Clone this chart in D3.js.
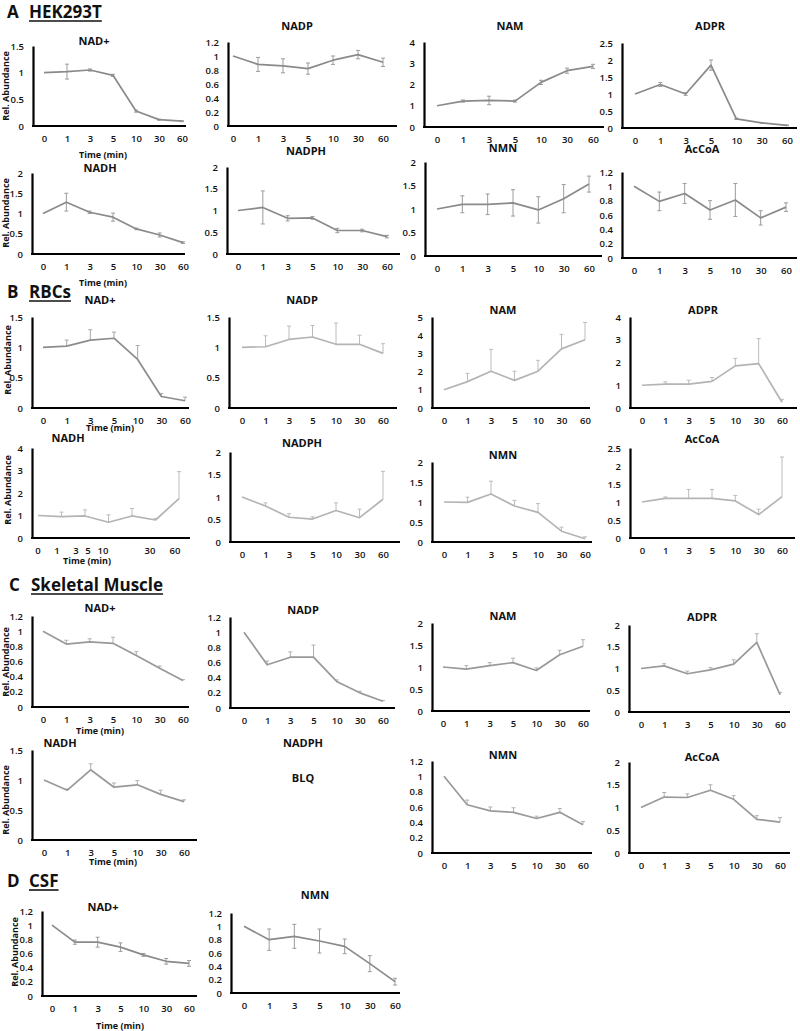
<!DOCTYPE html>
<html><head><meta charset="utf-8">
<script src="https://cdn.jsdelivr.net/npm/d3@7"></script>
<style>body{margin:0;background:#fff} svg{display:block}</style>
</head><body><svg id="c" width="800" height="1031"></svg>
<script>
const timePoints = ["0","1","3","5","10","30","60"];

// A  HEK293T
const hekNAD = [1.0,1.02,1.05,0.95,0.28,0.12,0.09];
const hekNADErr = [0,0.14,0.02,0.02,0.02,0.01,0.01];
const hekNADP = [1.0,0.88,0.86,0.82,0.94,1.02,0.91];
const hekNADPErr = [0,0.1,0.1,0.08,0.06,0.06,0.06];
const hekNAM = [1.0,1.22,1.25,1.22,2.1,2.65,2.85];
const hekNAMErr = [0,0.05,0.2,0.05,0.1,0.12,0.1];
const hekADPR = [1.0,1.28,1.0,1.85,0.27,0.15,0.08];
const hekADPRErr = [0,0.06,0.04,0.15,0.02,0.01,0.01];
const hekNADH = [1.0,1.28,1.03,0.91,0.62,0.47,0.28];
const hekNADHErr = [0,0.22,0.03,0.1,0.02,0.05,0.02];
const hekNADPH = [1.0,1.07,0.82,0.83,0.54,0.54,0.4];
const hekNADPHErr = [0,0.38,0.06,0.03,0.05,0.03,0.03];
const hekNMN = [1.0,1.1,1.1,1.13,0.98,1.22,1.53];
const hekNMNErr = [0,0.18,0.22,0.28,0.28,0.3,0.17];
const hekAcCoA = [1.0,0.79,0.9,0.67,0.81,0.56,0.71];
const hekAcCoAErr = [0,0.13,0.14,0.13,0.23,0.1,0.06];

// B  RBCs
const rbcNAD = [1.0,1.02,1.12,1.15,0.8,0.19,0.12];
const rbcNADErr = [0,0.1,0.17,0.1,0.23,0.05,0.06];
const rbcNADP = [1.0,1.01,1.13,1.17,1.05,1.05,0.9];
const rbcNADPErr = [0,0.18,0.22,0.19,0.35,0.15,0.16];
const rbcNAM = [1.0,1.45,2.02,1.52,2.02,3.25,3.75];
const rbcNAMErr = [0,0.45,1.2,0.5,0.6,0.8,0.95];
const rbcADPR = [1.0,1.05,1.05,1.17,1.85,1.95,0.25];
const rbcADPRErr = [0,0.1,0.17,0.17,0.33,1.1,0.13];
const rbcNADH = [1.0,0.95,0.98,0.7,0.98,0.8,1.75];
const rbcNADHErr = [0,0.2,0.27,0.33,0.33,0.07,1.2];
const rbcNADPH = [1.0,0.8,0.55,0.51,0.7,0.54,0.95];
const rbcNADPHErr = [0,0.07,0.08,0.05,0.17,0.19,0.62];
const rbcNMN = [1.0,0.99,1.2,0.9,0.74,0.27,0.08];
const rbcNMNErr = [0,0.13,0.32,0.14,0.22,0.1,0.05];
const rbcAcCoA = [1.0,1.1,1.1,1.1,1.03,0.65,1.15];
const rbcAcCoAErr = [0,0.04,0.25,0.25,0.15,0.15,1.1];

// C  Skeletal Muscle
const musNAD = [1.0,0.83,0.86,0.84,0.68,0.51,0.35];
const musNADErr = [0,0.05,0.04,0.08,0.05,0.03,0.01];
const musNADP = [1.0,0.57,0.67,0.67,0.35,0.2,0.09];
const musNADPErr = [0,0.05,0.07,0.16,0.02,0.02,0.01];
const musNAM = [1.0,0.95,1.03,1.1,0.92,1.28,1.47];
const musNAMErr = [0,0.08,0.07,0.1,0.06,0.1,0.15];
const musADPR = [1.0,1.06,0.88,0.97,1.1,1.6,0.4];
const musADPRErr = [0,0.05,0.06,0.05,0.1,0.2,0.05];
const musNADH = [1.0,0.83,1.17,0.88,0.92,0.76,0.64];
const musNADHErr = [0,0.02,0.1,0.07,0.07,0.07,0.03];
const musNMN = [1.0,0.63,0.55,0.53,0.45,0.53,0.37];
const musNMNErr = [0,0.06,0.05,0.06,0.03,0.05,0.04];
const musAcCoA = [1.0,1.23,1.22,1.38,1.18,0.74,0.68];
const musAcCoAErr = [0,0.1,0.08,0.12,0.08,0.08,0.1];

// D  CSF
const csfNAD = [1.0,0.76,0.76,0.69,0.58,0.49,0.46];
const csfNADErr = [0,0.03,0.07,0.06,0.02,0.04,0.04];
const csfNMN = [1.0,0.8,0.85,0.78,0.7,0.44,0.17];
const csfNMNErr = [0,0.16,0.18,0.18,0.11,0.12,0.05];

const sections = [
  {letter:"A", name:"HEK293T", x:7, y:18},
  {letter:"B", name:"RBCs", x:7, y:298},
  {letter:"C", name:"Skeletal Muscle", x:9, y:591},
  {letter:"D", name:"CSF", x:7, y:887}
];

const styleA = {line:"#8a8a8a", err:"#9c9c9c", mode:"both"};
const styleB = {line:"#b4b4b4", err:"#bcbcbc", mode:"up"};
const styleB1 = {line:"#8c8c8c", err:"#a8a8a8", mode:"up"};
const styleC = {line:"#999999", err:"#b0b0b0", mode:"up"};

// box: [yAxisX, xAxisEnd, firstPointX, lastPointX, yTop, yBottom]
const panels = [
  {st:styleA, title:"NAD+", v:hekNAD, e:hekNADErr, yMax:1.5, yStep:0.5, box:[33,186,44,182,46,126], t:[94,41]},
  {st:styleA, title:"NADP", v:hekNADP, e:hekNADPErr, yMax:1.2, yStep:0.2, box:[228,397,233,383,42,126], t:[297,26]},
  {st:styleA, title:"NAM", v:hekNAM, e:hekNAMErr, yMax:4, yStep:1, box:[424,604,437,593,42,127], t:[510,26]},
  {st:styleA, title:"ADPR", v:hekADPR, e:hekADPRErr, yMax:2.5, yStep:0.5, box:[622,797,635,787,43,128], t:[710,26]},
  {st:styleA, title:"NADH", v:hekNADH, e:hekNADHErr, yMax:2, yStep:0.5, box:[32,185,43,183,173,254], t:[100,168]},
  {st:styleA, title:"NADPH", v:hekNADPH, e:hekNADPHErr, yMax:2, yStep:0.5, box:[227,400,238,387,167,254], t:[306,151]},
  {st:styleA, title:"NMN", v:hekNMN, e:hekNMNErr, yMax:2, yStep:0.5, box:[425,602,437,589,162,256], t:[503,148]},
  {st:styleA, title:"AcCoA", v:hekAcCoA, e:hekAcCoAErr, yMax:1.2, yStep:0.2, box:[622,797,634,786,172,258], t:[702,149]},

  {st:styleB1, title:"NAD+", v:rbcNAD, e:rbcNADErr, yMax:1.5, yStep:0.5, box:[32,189,43,185,317,408], t:[100,300]},
  {st:styleB, title:"NADP", v:rbcNADP, e:rbcNADPErr, yMax:1.5, yStep:0.5, box:[229,397,242,383,317,408], t:[302,300]},
  {st:styleB, title:"NAM", v:rbcNAM, e:rbcNAMErr, yMax:5, yStep:1, box:[432,590,444,585,317,408], t:[503,310]},
  {st:styleB, title:"ADPR", v:rbcADPR, e:rbcADPRErr, yMax:4, yStep:1, box:[630,797,642,782,317,408], t:[703,310]},
  {st:styleB, title:"NADH", v:rbcNADH, e:rbcNADHErr, yMax:4, yStep:1, box:[32,190,38,179,448,538], t:[68,438], lab:[38,57,76,88,103,150,175]},
  {st:styleB, title:"NADPH", v:rbcNADPH, e:rbcNADPHErr, yMax:2, yStep:0.5, box:[230,400,242,383,452,542], t:[302,443]},
  {st:styleB, title:"NMN", v:rbcNMN, e:rbcNMNErr, yMax:2, yStep:0.5, box:[432,592,444,585,462,542], t:[503,455]},
  {st:styleB, title:"AcCoA", v:rbcAcCoA, e:rbcAcCoAErr, yMax:2.5, yStep:0.5, box:[630,795,642,782,448,538], t:[702,439]},

  {st:styleC, title:"NAD+", v:musNAD, e:musNADErr, yMax:1.2, yStep:0.2, box:[32,189,43,183,616,707], t:[100,608]},
  {st:styleC, title:"NADP", v:musNADP, e:musNADPErr, yMax:1.2, yStep:0.2, box:[230,395,244,383,617,708], t:[303,610]},
  {st:styleC, title:"NAM", v:musNAM, e:musNAMErr, yMax:2, yStep:0.5, box:[432,590,443,583,623,711], t:[503,616]},
  {st:styleC, title:"ADPR", v:musADPR, e:musADPRErr, yMax:2, yStep:0.5, box:[629,790,641,780,625,712], t:[702,617]},
  {st:styleC, title:"NADH", v:musNADH, e:musNADHErr, yMax:1.5, yStep:0.5, box:[32,197,44,184,750,840], t:[60,743]},
  {st:styleC, title:"NMN", v:musNMN, e:musNMNErr, yMax:1.2, yStep:0.2, box:[432,592,444,583,761,853], t:[503,755]},
  {st:styleC, title:"AcCoA", v:musAcCoA, e:musAcCoAErr, yMax:2, yStep:0.5, box:[629,790,641,780,762,853], t:[702,757]},

  {st:styleA, title:"NAD+", v:csfNAD, e:csfNADErr, yMax:1.2, yStep:0.2, box:[42,197,52,189,911,996], t:[103,907]},
  {st:styleA, title:"NMN", v:csfNMN, e:csfNMNErr, yMax:1.2, yStep:0.2, box:[231,400,244,395,913,993], t:[315,895]}
];

const extraTexts = [
  {text:"NADPH", x:303, y:743, cls:"title"},
  {text:"BLQ", x:303, y:778, cls:"title"},
  {text:"Time (min)", x:103, y:155, cls:"axlab"},
  {text:"Time (min)", x:103, y:283, cls:"axlab"},
  {text:"Time (min)", x:110, y:428, cls:"axlab"},
  {text:"Time (min)", x:87, y:561, cls:"axlab"},
  {text:"Time (min)", x:100, y:731, cls:"axlab"},
  {text:"Time (min)", x:113, y:862, cls:"axlab"},
  {text:"Time (min)", x:120, y:1026, cls:"axlab"}
];
const relLabels = [[6,86],[6,213],[8,360],[8,490],[6,662],[6,800],[15,952]];

const svg = d3.select("#c");
const FONT = "'Open Sans', 'Liberation Sans', sans-serif";

sections.forEach(s => {
  const g = svg.append("g").attr("font-family", FONT).attr("font-weight", 700).attr("font-size", 17).attr("fill", "#111");
  g.append("text").attr("x", s.x).attr("y", s.y).text(s.letter);
  const t = g.append("text").attr("x", s.x + 22).attr("y", s.y).text(s.name);
  const w = t.node().getComputedTextLength();
  g.append("line").attr("x1", s.x + 22).attr("x2", s.x + 22 + w).attr("y1", s.y + 3).attr("y2", s.y + 3)
    .attr("stroke", "#111").attr("stroke-width", 1.6);
});

panels.forEach(p => {
  const [x0, xEnd, xF, xL, yT, yB] = p.box;
  const x = d3.scalePoint().domain(timePoints).range([xF, xL]);
  const y = d3.scaleLinear().domain([0, p.yMax]).range([yB, yT]);
  const g = svg.append("g");
  const ticks = d3.range(0, p.yMax + 1e-9, p.yStep);
  const ya = g.append("g").attr("transform", `translate(${x0},0)`)
    .call(d3.axisLeft(y).tickValues(ticks).tickSize(0).tickSizeOuter(0).tickPadding(9).tickFormat(d3.format("~g")));
  ya.select(".domain").attr("stroke", "#000").attr("stroke-width", 2.2);
  ya.selectAll("text").attr("font-family", FONT).attr("font-size", 9.5).attr("font-weight", 600).attr("fill", "#111");
  g.append("line").attr("x1", x0 - 1).attr("x2", xEnd).attr("y1", yB).attr("y2", yB)
    .attr("stroke", "#000").attr("stroke-width", 2.2);
  const xa = g.append("g").attr("transform", `translate(0,${yB})`)
    .call(d3.axisBottom(x).tickSize(0).tickPadding(9));
  xa.select(".domain").remove();
  xa.selectAll("text").attr("font-family", FONT).attr("font-size", 9.5).attr("font-weight", 600).attr("fill", "#111");
  if (p.lab) xa.selectAll(".tick").attr("transform", (d, i) => `translate(${p.lab[i]},0)`);
  const pts = timePoints.map((t, i) => ({t, v: p.v[i], e: p.e[i]}));
  const eb = g.append("g").attr("stroke", p.st.err).attr("stroke-width", 1);
  pts.filter(d => d.e > 0).forEach(d => {
    const lo = p.st.mode === "both" ? d.v - d.e : d.v;
    const hi = d.v + d.e;
    eb.append("line").attr("x1", x(d.t)).attr("x2", x(d.t)).attr("y1", y(lo)).attr("y2", y(hi));
    eb.append("line").attr("x1", x(d.t) - 2).attr("x2", x(d.t) + 2).attr("y1", y(hi)).attr("y2", y(hi));
    if (p.st.mode === "both")
      eb.append("line").attr("x1", x(d.t) - 2).attr("x2", x(d.t) + 2).attr("y1", y(lo)).attr("y2", y(lo));
  });
  g.append("path").datum(pts).attr("fill", "none").attr("stroke", p.st.line).attr("stroke-width", 1.7)
    .attr("stroke-linejoin", "round")
    .attr("d", d3.line().x(d => x(d.t)).y(d => y(d.v)));
  g.append("text").attr("x", p.t[0]).attr("y", p.t[1]).attr("dy", "0.35em").attr("text-anchor", "middle")
    .attr("font-family", FONT).attr("font-size", 11).attr("font-weight", 700).attr("fill", "#111").text(p.title);
});

extraTexts.forEach(t => {
  svg.append("text").attr("x", t.x).attr("y", t.y).attr("dy", "0.35em").attr("text-anchor", "middle")
    .attr("font-family", FONT).attr("font-weight", 700).attr("fill", "#111")
    .attr("font-size", t.cls === "title" ? 11 : 9).text(t.text);
});
relLabels.forEach(([cx, cy]) => {
  svg.append("text").attr("transform", `translate(${cx},${cy}) rotate(-90)`).attr("dy", "0.35em")
    .attr("text-anchor", "middle").attr("font-family", FONT).attr("font-weight", 700)
    .attr("font-size", 9).attr("fill", "#111").text("Rel. Abundance");
});
</script></body></html>
